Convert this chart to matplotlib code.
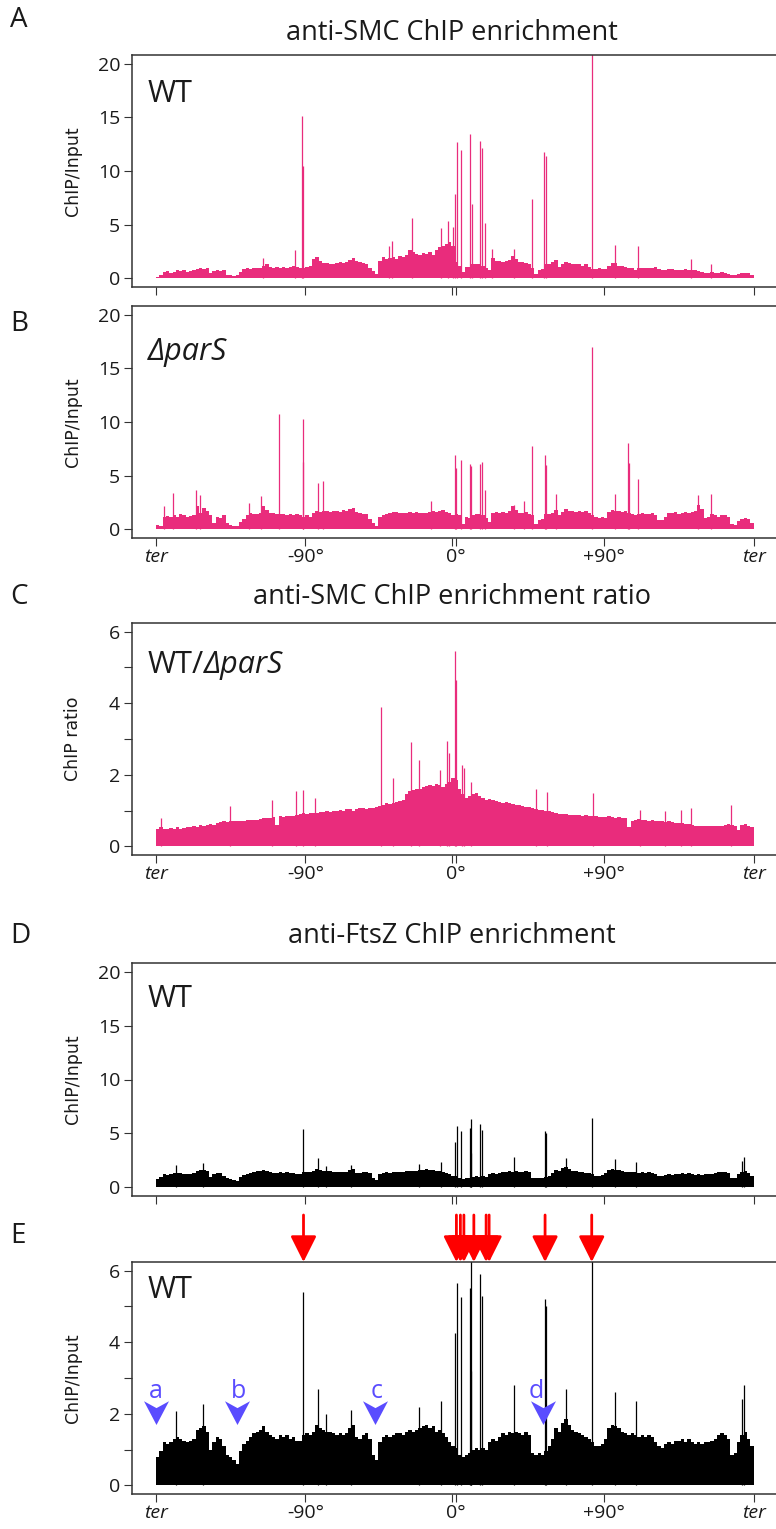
import numpy as np
import matplotlib
matplotlib.use('Agg')
import matplotlib.pyplot as plt
from matplotlib.path import Path

plt.rcParams['font.family'] = ['Open Sans', 'DejaVu Sans']

# genome position in degrees, 2 degree bins from ter (-180) through ori (0) to ter (+180)
pos = np.arange(-179, 180, 2)

# A: anti-SMC ChIP / input, WT (background level per bin)
smc_wt = [0.15, 0.3, 0.6, 0.65, 0.55, 0.6, 0.75, 0.7, 0.8, 0.6,
          0.65, 0.75, 0.85, 0.95, 0.9, 1.0, 0.5, 0.7, 0.8, 0.7,
          0.75, 0.35, 0.3, 0.25, 0.3, 0.6, 0.9, 0.95, 0.9, 0.95,
          1.0, 1.0, 1.2, 1.3, 1.1, 1.0, 1.05, 1.0, 1.05, 1.0,
          1.1, 1.2, 1.1, 1.0, 1.0, 1.05, 1.2, 1.8, 2.0, 1.6,
          1.4, 1.4, 1.3, 1.35, 1.4, 1.5, 1.45, 1.5, 1.7, 1.9,
          1.6, 1.5, 1.4, 1.3, 1.0, 0.7, 0.4, 1.6, 2.0, 1.8,
          1.9, 2.0, 1.8, 2.1, 2.0, 2.2, 2.6, 2.5, 2.3, 2.2,
          2.4, 2.3, 2.5, 2.2, 2.6, 2.9, 3.0, 3.2, 3.4, 3.0,
          1.5, 1.2, 0.6, 1.1, 1.1, 1.3, 1.3, 1.3, 1.2, 1.0,
          0.8, 1.9, 1.6, 1.6, 1.5, 1.6, 1.7, 2.1, 1.8, 1.5,
          1.5, 1.4, 1.3, 1.0, 0.4, 0.8, 0.9, 1.3, 1.3, 1.5,
          1.7, 1.1, 1.3, 1.5, 1.4, 1.3, 1.3, 1.3, 1.2, 1.3,
          1.1, 0.9, 0.9, 1.0, 0.9, 0.9, 1.2, 1.4, 1.4, 1.2,
          1.2, 1.1, 1.0, 1.0, 0.8, 1.0, 1.0, 1.0, 1.0, 1.0,
          1.1, 0.9, 0.8, 0.8, 0.9, 0.9, 0.8, 0.8, 0.8, 0.9,
          0.8, 0.8, 0.8, 0.7, 0.6, 0.5, 0.5, 0.6, 0.5, 0.5,
          0.6, 0.5, 0.4, 0.3, 0.3, 0.4, 0.5, 0.5, 0.5, 0.35]
smc_wt_peak_pos = [-115.5, -96.4, -91.8, -91.4, -39.9, -37.9, -26.0, -8.0, -4.0, -1.0,
                   0.4, 1.5, 3.8, 9.0, 10.2, 15.4, 16.4, 18.3, 22.4, 35.5,
                   46.7, 54.0, 54.8, 82.5, 96.8, 110.2, 142.0, 154.5]
smc_wt_peak_val = [1.9, 2.6, 15.1, 10.5, 3.0, 3.5, 5.6, 4.7, 5.3, 4.8,
                   7.9, 12.7, 12.0, 13.4, 6.9, 12.8, 12.1, 5.2, 2.7, 2.7,
                   7.4, 11.8, 11.4, 21.5, 3.1, 3.0, 1.8, 1.35]

# B: anti-SMC ChIP / input, delta parS
smc_pars = [0.4, 0.3, 1.2, 1.25, 1.2, 1.3, 1.2, 1.4, 1.3, 1.2,
            1.25, 1.3, 2.2, 1.5, 2.0, 1.7, 1.3, 0.6, 1.2, 1.1,
            1.3, 0.6, 0.45, 0.3, 0.35, 0.7, 1.0, 1.3, 1.5, 1.4,
            1.4, 1.5, 2.2, 1.8, 1.5, 1.5, 1.4, 1.4, 1.4, 1.3,
            1.4, 1.3, 1.4, 1.3, 1.2, 1.3, 1.2, 1.5, 1.7, 1.6,
            1.7, 1.7, 1.6, 1.7, 1.7, 1.6, 1.8, 1.7, 1.9, 2.0,
            1.6, 1.5, 1.4, 1.4, 1.0, 0.6, 0.3, 1.2, 1.3, 1.4,
            1.5, 1.6, 1.6, 1.5, 1.5, 1.5, 1.6, 1.5, 1.6, 1.5,
            1.5, 1.5, 1.6, 1.7, 1.6, 1.7, 1.8, 1.6, 1.5, 1.3,
            1.4, 1.3, 0.5, 1.2, 1.1, 1.3, 1.4, 1.4, 1.3, 1.1,
            0.7, 1.5, 1.6, 1.5, 1.6, 1.5, 1.7, 2.2, 1.8, 1.5,
            1.5, 1.6, 1.4, 1.3, 0.5, 0.9, 1.0, 1.4, 1.4, 1.5,
            1.8, 1.3, 1.6, 1.9, 1.7, 1.7, 1.6, 1.7, 1.6, 1.7,
            1.5, 1.3, 1.2, 1.1, 1.2, 1.1, 1.6, 1.8, 1.7, 1.7,
            1.6, 1.7, 1.5, 1.4, 1.3, 1.4, 1.5, 1.4, 1.4, 1.5,
            1.3, 0.9, 0.9, 1.2, 1.5, 1.5, 1.6, 1.4, 1.5, 1.6,
            1.5, 1.6, 1.7, 2.3, 1.9, 1.1, 1.2, 1.4, 1.3, 1.2,
            1.3, 1.3, 1.2, 0.5, 0.4, 0.8, 1.0, 1.1, 1.0, 0.6]
smc_pars_peak_pos = [-175.2, -170.0, -156.0, -153.2, -123.7, -116.8, -106.0, -91.7, -91.4, -82.2,
                     -79.2, -14.5, 0.4, 0.9, 3.7, 9.1, 9.6, 15.4, 16.4, 18.3,
                     35.5, 41.9, 46.7, 54.1, 55.0, 60.7, 82.5, 96.8, 104.3, 105.2,
                     110.2, 146.6, 154.3]
smc_pars_peak_val = [2.2, 3.4, 3.7, 3.2, 2.5, 3.1, 10.7, 10.3, 6.3, 4.3,
                     4.5, 2.6, 6.9, 5.7, 6.5, 6.1, 5.9, 6.1, 6.3, 3.7,
                     2.3, 2.6, 7.8, 6.9, 6.0, 3.3, 17.0, 3.3, 8.0, 6.2,
                     4.7, 3.2, 3.3]

# C: WT / delta parS ratio
smc_ratio = [0.5, 0.55, 0.48, 0.5, 0.52, 0.5, 0.55, 0.5, 0.52, 0.55,
             0.55, 0.56, 0.55, 0.6, 0.58, 0.6, 0.62, 0.6, 0.65, 0.68,
             0.7, 0.68, 0.72, 0.7, 0.72, 0.7, 0.72, 0.75, 0.73, 0.75,
             0.74, 0.76, 0.78, 0.8, 0.8, 0.82, 0.6, 0.84, 0.82, 0.85,
             0.86, 0.85, 0.88, 0.9, 0.92, 0.9, 0.93, 0.92, 0.94, 0.96,
             0.95, 0.98, 0.96, 1.0, 1.0, 1.02, 1.0, 1.04, 1.05, 1.0,
             1.05, 1.08, 1.06, 1.05, 1.06, 1.08, 1.1, 1.12, 1.15, 1.2,
             1.18, 1.22, 1.25, 1.28, 1.3, 1.45, 1.55, 1.58, 1.6, 1.6,
             1.65, 1.7, 1.72, 1.7, 1.75, 1.72, 1.65, 1.75, 1.8, 1.9,
             1.85, 1.6, 1.45, 1.35, 1.4, 1.45, 1.5, 1.4, 1.35, 1.3,
             1.32, 1.3, 1.28, 1.25, 1.22, 1.25, 1.2, 1.18, 1.15, 1.15,
             1.12, 1.1, 1.1, 1.08, 1.05, 1.02, 1.02, 1.0, 0.98, 0.95,
             0.92, 0.9, 0.9, 0.9, 0.88, 0.88, 0.87, 0.88, 0.86, 0.87,
             0.86, 0.85, 0.84, 0.82, 0.83, 0.82, 0.84, 0.82, 0.8, 0.82,
             0.8, 0.78, 0.55, 0.72, 0.75, 0.76, 0.75, 0.74, 0.72, 0.73,
             0.7, 0.72, 0.7, 0.68, 0.7, 0.68, 0.66, 0.66, 0.64, 0.62,
             0.62, 0.6, 0.58, 0.56, 0.58, 0.57, 0.56, 0.58, 0.57, 0.58,
             0.56, 0.6, 0.62, 0.6, 0.58, 0.45, 0.6, 0.62, 0.58, 0.55]
smc_ratio_peak_pos = [-177.1, -135.1, -110.2, -95.9, -91.7, -84.2, -44.2, -37.0, -26.2, -21.5,
                      -8.8, -4.7, -3.4, -0.1, 0.5, 4.5, 5.5, 10.0, 48.7, 55.3,
                      83.0, 111.6, 126.9, 136.0, 142.1, 166.5]
smc_ratio_peak_val = [0.78, 1.13, 1.29, 1.54, 1.57, 1.36, 3.9, 1.9, 2.93, 2.41,
                      2.13, 2.95, 2.6, 5.45, 4.65, 2.27, 2.2, 1.8, 1.59, 1.53,
                      1.48, 1.03, 1.0, 1.03, 1.08, 1.15]

# D and E: anti-FtsZ ChIP / input, WT (same data, two y scales)
ftsz_wt = [0.8, 0.95, 1.2, 1.15, 1.2, 1.3, 1.35, 1.3, 1.25, 1.2,
           1.25, 1.3, 1.55, 1.6, 1.65, 1.5, 1.0, 1.2, 1.35, 1.3,
           1.1, 0.85, 0.8, 0.7, 0.6, 0.95, 1.15, 1.25, 1.35, 1.45,
           1.5, 1.55, 1.65, 1.5, 1.4, 1.35, 1.3, 1.4, 1.35, 1.4,
           1.3, 1.35, 1.25, 1.25, 1.4, 1.45, 1.4, 1.5, 1.7, 1.6,
           1.55, 1.5, 1.5, 1.45, 1.4, 1.45, 1.4, 1.45, 1.6, 1.7,
           1.35, 1.3, 1.4, 1.45, 1.3, 0.85, 0.7, 1.2, 1.35, 1.4,
           1.35, 1.4, 1.45, 1.45, 1.4, 1.5, 1.55, 1.5, 1.55, 1.6,
           1.65, 1.7, 1.6, 1.65, 1.5, 1.55, 1.45, 1.35, 1.2, 1.1,
           1.05, 0.85, 0.8, 0.85, 0.9, 1.0, 1.05, 1.0, 1.05, 1.0,
           1.2, 1.3, 1.25, 1.35, 1.45, 1.4, 1.5, 1.45, 1.5, 1.45,
           1.4, 1.5, 1.4, 0.9, 0.85, 0.9, 0.85, 0.95, 1.1, 1.3,
           1.6, 1.5, 1.75, 1.85, 1.7, 1.55, 1.5, 1.45, 1.4, 1.35,
           1.3, 1.2, 1.1, 1.1, 1.15, 1.3, 1.6, 1.7, 1.65, 1.6,
           1.5, 1.45, 1.4, 1.45, 1.4, 1.35, 1.4, 1.35, 1.4, 1.35,
           1.2, 1.1, 1.05, 1.15, 1.2, 1.15, 1.25, 1.25, 1.3, 1.2,
           1.3, 1.2, 1.15, 1.2, 1.15, 1.2, 1.2, 1.25, 1.3, 1.4,
           1.45, 1.4, 1.3, 0.85, 0.9, 1.2, 1.4, 1.5, 1.3, 1.1]
ftsz_peak_pos = [-168.0, -151.5, -91.7, -82.2, -77.8, -62.3, -21.8, -8.3, 0.4, 1.6,
                 4.0, 9.1, 9.7, 10.0, 15.4, 16.3, 35.5, 54.1, 54.7, 67.0,
                 82.5, 96.8, 109.3, 173.0, 174.5]
ftsz_peak_val = [2.07, 2.26, 5.4, 2.7, 2.0, 2.1, 2.2, 2.35, 4.25, 5.65,
                 5.25, 5.5, 6.35, 3.2, 5.9, 5.3, 2.8, 5.2, 5.0, 2.7,
                 6.4, 2.6, 2.35, 2.4, 2.8]

# annotations of panel E
red_arrow_pos = [-91.1, 1.0, 3.4, 5.5, 11.5, 18.9, 20.7, 54.4, 82.5]
blue_arrow_pos = [-180.0, -131.4, -48.2, 53.2]
blue_arrow_lab = ['a', 'b', 'c', 'd']
blue_lab_pos = [-180.0, -130.0, -47.3, 49.0]

xtick_pos = [-180, -90, -1.6, 0.75, 90, 180]
xtick_lab = ['ter', '-90°', '', '0°', '+90°', 'ter']

pink = '#E92C7C'
blue = '#5A4CFF'
ink = '#1a1a1a'
W, H = 776, 1529

fig = plt.figure(figsize=(W / 100, H / 100), dpi=100)


def fx(x):
    return x / W


def fy(y):
    return 1 - y / H


def panel(top, bottom, values, peak_pos, peak_val, color, ymax, yticks, ylabels, ylab, xlabels):
    ax = fig.add_axes([fx(132), fy(bottom), (777.5 - 132) / W, (bottom - top) / H])
    ax.bar(pos, values, width=2.0, color=color, linewidth=0)
    ax.vlines(peak_pos, 0, peak_val, color=color, linewidth=0.9)
    ax.set_xlim(-194.4, 194.4)
    ax.set_ylim(-0.04 * ymax, 1.04 * ymax)
    ax.set_yticks(yticks)
    ax.set_yticklabels(ylabels)
    ax.set_xticks(xtick_pos)
    ax.set_xticklabels(xtick_lab)
    for lab in ax.get_xticklabels():
        if lab.get_text() == 'ter':
            lab.set_fontstyle('italic')
    ax.tick_params(direction='out', length=5.5, width=0.8, color='#333333',
                   labelsize=14, pad=3, labelcolor=ink)
    ax.tick_params(axis='x', length=6, pad=1.5)
    if not xlabels:
        ax.tick_params(axis='x', labelbottom=False)
    for s in ax.spines.values():
        s.set_color('#333333')
        s.set_linewidth(1.1)
    fig.text(fx(73), fy((top + bottom) / 2), ylab, rotation=90, ha='center', va='center',
             fontsize=12.5, family='DejaVu Sans', color=ink)
    return ax


def heading(letter, y_letter, title, y_title):
    fig.text(fx(10), fy(y_letter), letter, fontsize=20, va='baseline', color=ink)
    if title:
        fig.text(fx(452), fy(y_title), title, fontsize=19.5, ha='center', va='baseline',
                 color=ink)


tick20 = [0, 5, 10, 15, 20]
lab20 = ['0', '5', '10', '15', '20']
tick6 = [0, 1, 2, 3, 4, 5, 6]
lab6 = ['0', '', '2', '', '4', '', '6']

axA = panel(55, 287, smc_wt, smc_wt_peak_pos, smc_wt_peak_val, pink, 20, tick20, lab20, 'ChIP/Input', False)
axB = panel(306, 538, smc_pars, smc_pars_peak_pos, smc_pars_peak_val, pink, 20, tick20, lab20, 'ChIP/Input', True)
axC = panel(623, 855, smc_ratio, smc_ratio_peak_pos, smc_ratio_peak_val, pink, 6, tick6, lab6, 'ChIP ratio', True)
axD = panel(963, 1196, ftsz_wt, ftsz_peak_pos, ftsz_peak_val, 'black', 20, tick20, lab20, 'ChIP/Input', False)
axE = panel(1262, 1494, ftsz_wt, ftsz_peak_pos, ftsz_peak_val, 'black', 6, tick6, lab6, 'ChIP/Input', True)

heading('A', 27, 'anti-SMC ChIP enrichment', 40)
heading('B', 331, None, 0)
heading('C', 604, 'anti-SMC ChIP enrichment ratio', 604)
heading('D', 943, 'anti-FtsZ ChIP enrichment', 943)
heading('E', 1243, None, 0)

# strain labels inside panels
fig.text(fx(148), fy(102), 'WT', fontsize=22, va='baseline', color=ink)
fig.text(fx(148), fy(360), 'ΔparS', fontsize=22, va='baseline', style='italic', color=ink)
t1 = fig.text(fx(148), fy(673), 'WT/', fontsize=22, va='baseline', color=ink)
fig.text(fx(148), fy(1007), 'WT', fontsize=22, va='baseline', color=ink)
fig.text(fx(148), fy(1298), 'WT', fontsize=22, va='baseline', color=ink)
renderer = fig.canvas.get_renderer()
bb = t1.get_window_extent(renderer=renderer)
fig.text(bb.x1 / fig.bbox.width, fy(673), 'ΔparS', fontsize=22, va='baseline',
         style='italic', color=ink)

# red arrows above panel E
for x in red_arrow_pos:
    axE.annotate('', xy=(x, 1.0), xycoords=axE.get_xaxis_transform(),
                 xytext=(x, 1.0 + 47 / 232), textcoords=axE.get_xaxis_transform(),
                 arrowprops=dict(arrowstyle='-|>,head_length=0.8,head_width=0.4', color='red',
                                 lw=2, mutation_scale=20, shrinkA=0, shrinkB=0),
                 annotation_clip=False)

# blue arrowheads a-d
head = Path([(0, -1), (-1, 0.9), (0, 0.35), (1, 0.9), (0, -1)],
            [Path.MOVETO, Path.LINETO, Path.LINETO, Path.LINETO, Path.CLOSEPOLY])
axE.plot(blue_arrow_pos, [2.04] * len(blue_arrow_pos), linestyle='none', marker=head,
         markersize=18, color=blue, markeredgewidth=0, clip_on=False)
for x, lab in zip(blue_lab_pos, blue_arrow_lab):
    axE.text(x, 2.43, lab, color=blue, fontsize=18, ha='center', va='baseline')

fig.savefig('out.png', dpi=100)
